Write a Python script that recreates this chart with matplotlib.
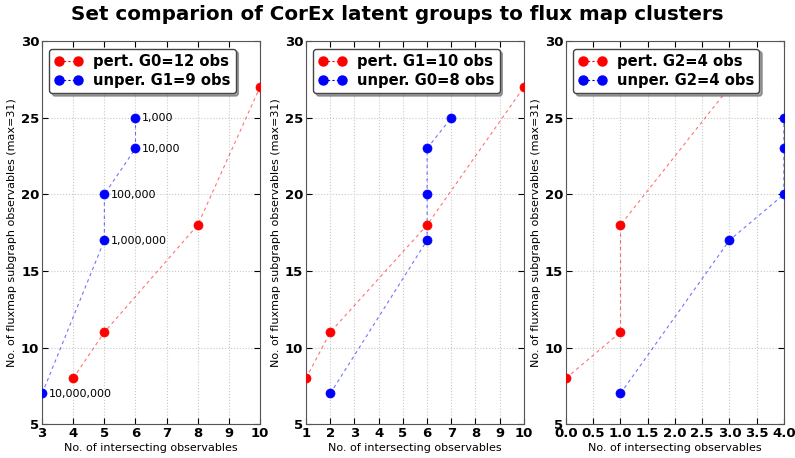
import numpy as np
import matplotlib
matplotlib.use('Agg')
import matplotlib.pyplot as plt

# data
pert_x = [[4, 5, 8, 10], [1, 2, 6, 10], [0, 1, 1, 3]]
pert_y = [[8, 11, 18, 27], [8, 11, 18, 27], [8, 11, 18, 27]]
unper_x = [[3, 5, 5, 6, 6], [2, 6, 6, 6, 7], [1, 3, 4, 4, 4]]
unper_y = [[7, 17, 20, 23, 25], [7, 17, 20, 23, 25], [7, 17, 20, 23, 25]]
pert_lab = ['pert. G0=12 obs', 'pert. G1=10 obs', 'pert. G2=4 obs']
unper_lab = ['unper. G1=9 obs', 'unper. G0=8 obs', 'unper. G2=4 obs']
point_lab = ['10,000,000', '1,000,000', '100,000', '10,000', '1,000']
xlims = [(3, 10), (1, 10), (0, 4)]
xticks = [list(range(3, 11)), list(range(1, 11)), [0, 0.5, 1, 1.5, 2, 2.5, 3, 3.5, 4]]
yticks = [5, 10, 15, 20, 25, 30]

fig = plt.figure(figsize=(7.95, 4.58), dpi=100, facecolor='w')
lefts = [0.053, 0.385, 0.712]
width = 0.274
axs = [fig.add_axes([l, 0.074, width, 0.836]) for l in lefts]

for i, ax in enumerate(axs):
    for xs, ys, c, lab in [(pert_x[i], pert_y[i], 'red', pert_lab[i]),
                           (unper_x[i], unper_y[i], 'blue', unper_lab[i])]:
        # faint dashed connector, solid markers
        ax.plot(xs, ys, '--', color=c, lw=0.8, alpha=0.55, dashes=(3, 3), zorder=2)
        ax.plot(xs, ys, 'o', color=c, ms=6.5, mec=c, mew=0.5, zorder=3)
        # legend proxy
        ax.plot([], [], '--o', color=c, ms=6.5, lw=0.8, alpha=1, dashes=(2, 2), label=lab)
    ax.set_xlim(*xlims[i])
    ax.set_ylim(5, 30)
    ax.set_xticks(xticks[i])
    ax.set_yticks(yticks)
    if i == 2:
        ax.set_xticklabels(['%.1f' % t for t in xticks[i]])
    ax.tick_params(direction='in', top=True, right=True, length=4, labelsize=9.5, pad=2)
    for lab in ax.get_xticklabels() + ax.get_yticklabels():
        lab.set_fontweight('bold')
    ax.grid(True, color='#c8c8c8', linestyle=':', lw=0.8)
    ax.set_axisbelow(True)
    for s in ax.spines.values():
        s.set_color('#555555')
    ax.set_xlabel('No. of intersecting observables', fontsize=8, labelpad=2)
    ax.set_ylabel('No. of fluxmap subgraph observables (max=31)', fontsize=8, labelpad=3)
    leg = ax.legend(loc='upper left', numpoints=2, fancybox=True, shadow=True,
                    prop={'weight': 'bold', 'size': 10.6}, handlelength=1.9,
                    borderpad=0.35, labelspacing=0.3, handletextpad=0.7,
                    borderaxespad=0.5)
    leg.get_frame().set_edgecolor('#444444')
    leg.set_zorder(10)

# labels for the first panel's unperturbed points
for xv, yv, t in zip(unper_x[0], unper_y[0], point_lab):
    axs[0].annotate(t, (xv, yv), xytext=(4.5, -0.5), textcoords='offset points',
                    fontsize=8, va='center', ha='left', zorder=4)

fig.suptitle('Set comparion of CorEx latent groups to flux map clusters',
             fontsize=14.3, fontweight='bold', y=0.99)
fig.savefig('out.png', dpi=100, facecolor='w')
